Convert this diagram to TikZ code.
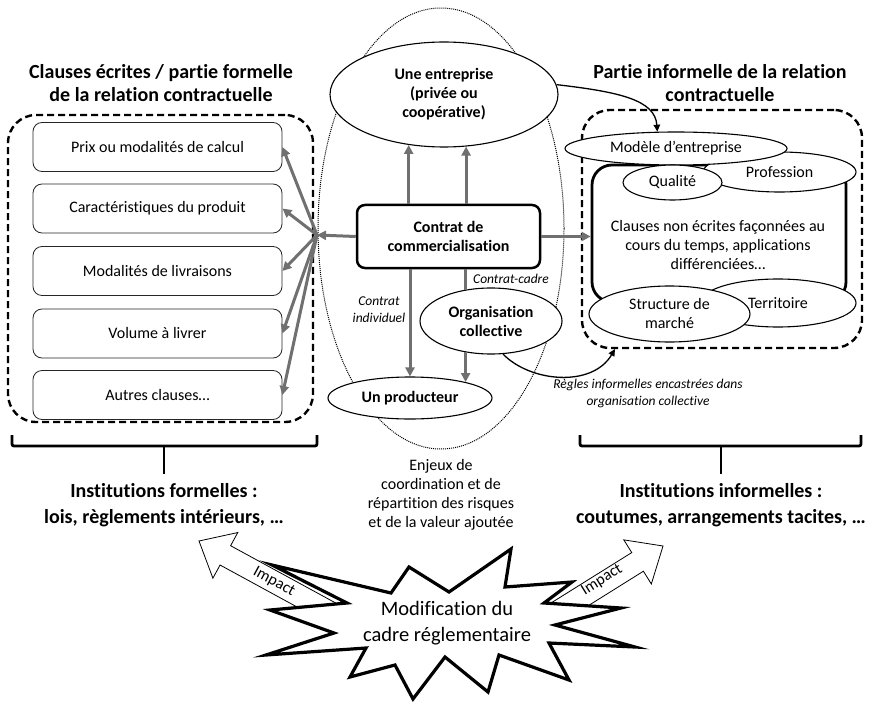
\documentclass[tikz,border=0pt]{standalone}
\usepackage{fontspec}
\setmainfont{Carlito}[Ligatures=NoCommon]
\usetikzlibrary{arrows.meta,shapes.geometric,calc}
\definecolor{arrgray}{RGB}{112,112,112}
\begin{document}
\begin{tikzpicture}[x=1pt,y=-1pt,
  garrow/.style={draw=arrgray, line width=3pt, -{Triangle[length=9pt,width=9pt]}},
  gline/.style={draw=arrgray, line width=3pt},
  barrow/.style={draw=black, line width=1.3pt, -{Triangle[length=7pt,width=6.5pt]}},
  dashbox/.style={draw, line width=2.4pt, dash pattern=on 7pt off 4pt, rounded corners=28pt, inner sep=0pt},
  ttl/.style={font=\fontsize{20}{22.5}\selectfont\bfseries, align=center},
  bttl/.style={font=\fontsize{20}{26}\selectfont\bfseries, align=center},
  rg16/.style={font=\fontsize{16}{19}\selectfont, align=center},
  bd16/.style={font=\fontsize{16}{19}\selectfont\bfseries, align=center},
  it13/.style={font=\fontsize{13.5}{17}\selectfont\itshape, align=center},
  clause/.style={draw=black!85, line width=0.8pt, rounded corners=9pt, minimum width=249pt, minimum height=49pt, fill=white, inner sep=0pt, rg16},
  ell/.style={ellipse, draw, line width=1.1pt, fill=white, inner sep=0pt, align=center},
  bracket/.style={draw, line width=2.8pt, rounded corners=2pt},
  impact/.style={draw, line width=0.8pt, fill=white},
  starline/.style={draw, line width=3.2pt, fill=white, line join=miter}
]
\useasboundingbox (0,0) rectangle (874,703);

% central dotted ellipse
\draw[dash pattern=on 1pt off 1pt, line width=1pt] (441,228.5) ellipse [x radius=123pt, y radius=220.5pt];

% ---------- left part ----------
\node[ttl] (ltitle) at (161,83) {Clauses écrites / partie formelle\\de la relation contractuelle};
\node[dashbox, minimum width=305pt, minimum height=307pt] (lbox) at (160.5,268.5) {};
\node[clause] (c1) at (157.5,147) {Prix ou modalités de calcul};
\node[clause] (c2) at (157.5,208.5) {Caractéristiques du produit};
\node[clause] (c3) at (157.5,271) {Modalités de livraisons};
\node[clause] (c4) at (157.5,333.5) {Volume à livrer};
\node[clause] (c5) at (157.5,395) {Autres clauses…};

% ---------- centre ----------
\node[ell, minimum width=228pt, minimum height=105pt, bd16] (ent) at (444,94.5) {Une entreprise\\(privée ou\\coopérative)};
\node[draw, line width=2.5pt, rounded corners=8pt, minimum width=183pt, minimum height=63pt, fill=white, bd16] (contrat) at (448.5,236.5) {Contrat de\\commercialisation};
\node[ell, minimum width=142pt, minimum height=66pt, bd16] (orga) at (491,321) {Organisation\\collective};
\node[ell, minimum width=164pt, minimum height=42pt, bd16] (prod) at (410,398) {Un producteur};
\node[it13] (lind) at (379,310) {Contrat\\individuel};
\node[it13] (lcadre) at (511,279) {Contrat-cadre};

\coordinate (hub) at (317,235);
\draw[garrow] (contrat.west) -- (hub);
\foreach \i in {1,...,5} \draw[garrow] (hub) -- (c\i.east);
\draw[garrow] (contrat.north -| ent.-125) -- (ent.-125);
\draw[garrow] (contrat.north -| ent.-67.6) -- (ent.-67.6);
\draw[garrow] (contrat.south -| prod.north) -- (prod.north);
\draw[gline] (contrat.south -| orga.129) -- (orga.129);
\draw[garrow] (orga.-129) -- (orga.-129 |- prod.16);

% ---------- right part ----------
\node[ttl] (rtitle) at (720,83) {Partie informelle de la relation\\contractuelle};
\node[dashbox, minimum width=280pt, minimum height=238pt] (rbox) at (722,229) {};
\node[draw, line width=2.8pt, rounded corners=20pt, minimum width=254pt, minimum height=137pt, inner sep=0pt] (inner) at (719,233.5) {};
\node[rg16] (ctext) at (718,245) {Clauses non écrites façonnées au\\cours du temps, applications\\différenciées…};
\node[ell, minimum width=153pt, minimum height=40pt, rg16] (prof) at (779.5,172) {Profession};
\node[ell, minimum width=222pt, minimum height=33pt, rg16] (mod) at (676,148.5) {Modèle d’entreprise};
\node[ell, minimum width=99pt, minimum height=35pt, rg16] (qual) at (672.5,182.5) {Qualité};
\node[ell, minimum width=156pt, minimum height=48pt, rg16] (terr) at (778,303) {Territoire};
\node[ell, minimum width=161pt, minimum height=56pt, rg16] (struct) at (669.5,314) {Structure de\\marché};

\draw[garrow] (contrat.east) -- (contrat.east -| inner.west);
\draw[barrow] (ent.5) .. controls (620,92) and (655,100) .. (mod.138);
\coordinate (rtip) at (615,349);
\draw[barrow] (orga.-70) .. controls (530,382) and (592,388) .. (rtip);
\node[it13] (lrules) at (648,393) {Règles informelles encastrées dans\\organisation collective};

% ---------- bottom ----------
\draw[bracket] (12,435) -- (12,446) -- (317,446) -- (317,435);
\draw[bracket] (164,446) -- (164,474);
\draw[bracket] (580,435) -- (580,446) -- (861,446) -- (861,435);
\draw[bracket] (721,446) -- (721,474);
\node[bttl] (linst) at (164,505) {Institutions formelles :\\lois, règlements intérieurs, …};
\node[bttl] (rinst) at (721,505) {Institutions informelles :\\coutumes, arrangements tacites, …};
\node[rg16] (enjeux) at (441,495) {Enjeux de\\coordination et de\\répartition des risques\\et de la valeur ajoutée};

% Impact arrows
\begin{scope}[shift={(199,541)}, rotate=-28.6]
  \draw[impact] (0,0) -- (30,-26) -- (30,-11) -- (170,-11) -- (170,11) -- (30,11) -- (30,26) -- cycle;
\end{scope}
\begin{scope}[shift={(663,546)}, rotate=212]
  \draw[impact] (0,0) -- (30,-26) -- (30,-11) -- (170,-11) -- (170,11) -- (30,11) -- (30,26) -- cycle;
\end{scope}
\node[font=\fontsize{16}{19}\selectfont, rotate=-28.6, inner sep=0pt] (imp1) at (274,582) {Impact};
\node[font=\fontsize{16}{19}\selectfont, rotate=32, inner sep=0pt] (imp2) at (602,580) {Impact};

% star
\draw[starline] (272,565) -- (391,593) -- (409,567) -- (449,592) -- (511,549) -- (505,587)
  -- (572,582) -- (544,603) -- (621,608) -- (555,625) -- (635,647) -- (549,643)
  -- (569,680) -- (499,655) -- (488,692) -- (445,657) -- (413,699) -- (395,665)
  -- (350,677) -- (366,648) -- (266,655) -- (334,633) -- (270,610) -- (347,603) -- cycle;
\node[font=\fontsize{20.5}{26}\selectfont, align=center] (modif) at (447,623) {Modification du\\cadre réglementaire};
\end{tikzpicture}
\end{document}
